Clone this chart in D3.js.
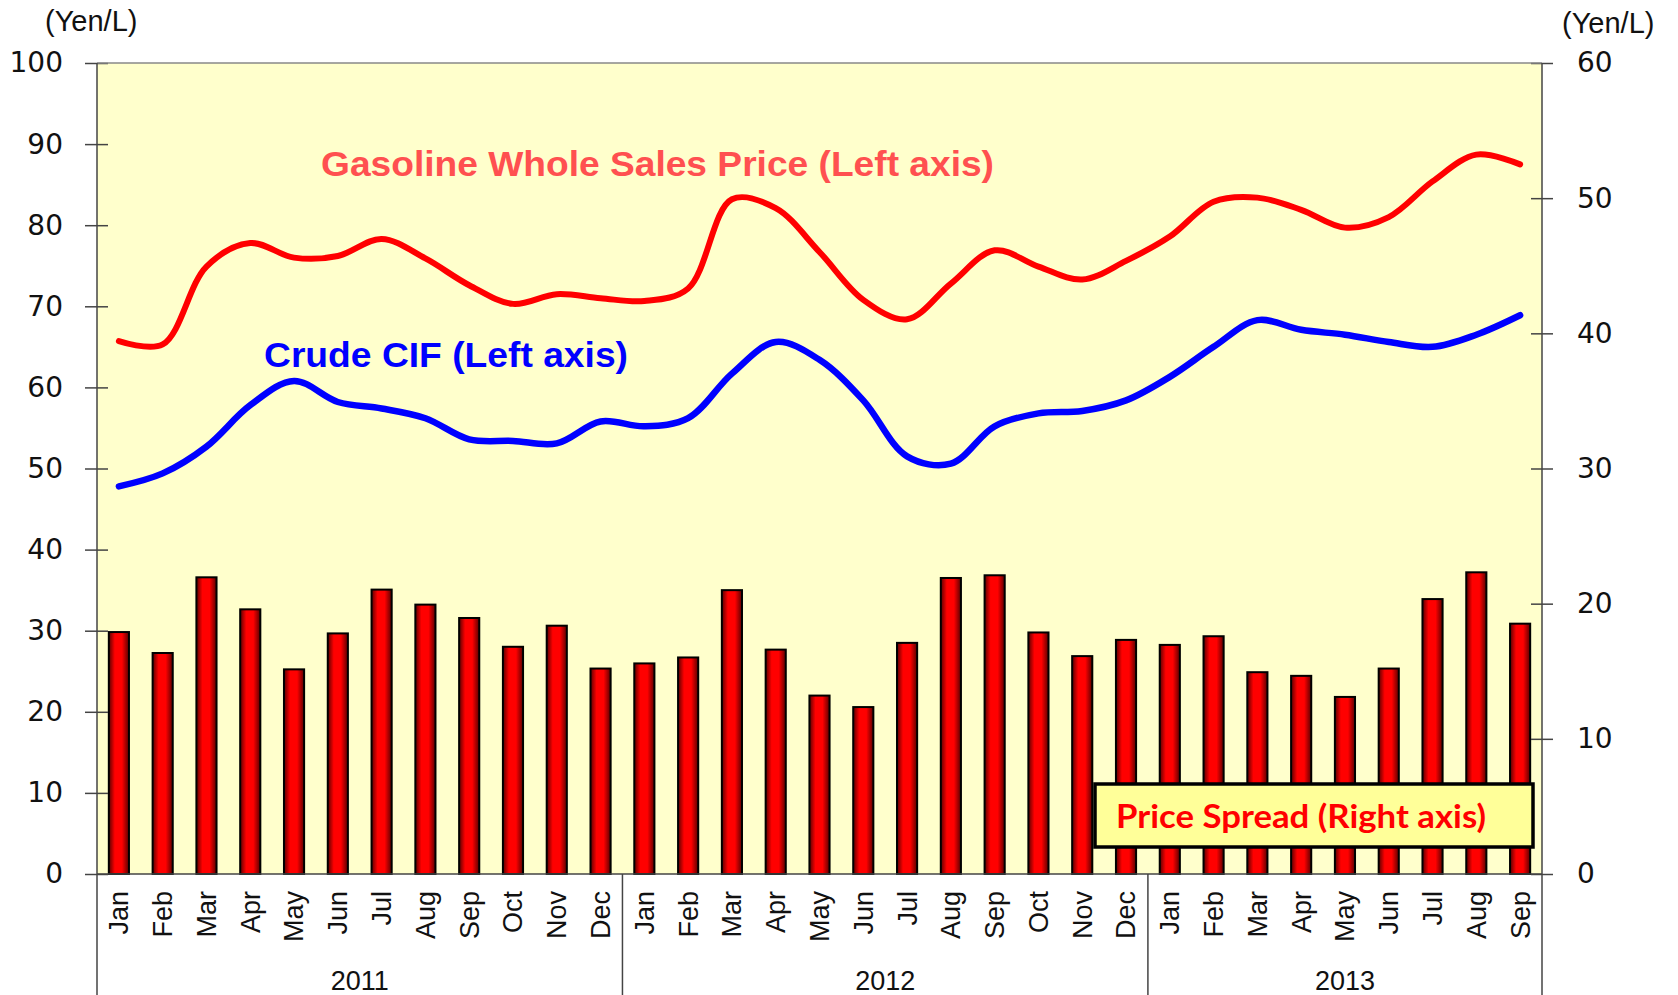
<!DOCTYPE html>
<html><head><meta charset="utf-8">
<script src="https://cdn.jsdelivr.net/npm/d3@7"></script>
<style>body{margin:0;background:#fff}svg{display:block}</style>
</head><body>
<svg id="c" width="1678" height="995"></svg>
<script>
const months = ["Jan","Feb","Mar","Apr","May","Jun","Jul","Aug","Sep","Oct","Nov","Dec",
  "Jan","Feb","Mar","Apr","May","Jun","Jul","Aug","Sep","Oct","Nov","Dec",
  "Jan","Feb","Mar","Apr","May","Jun","Jul","Aug","Sep"];
const years = ["2011","2012","2013"];
const yearMonthCounts = [12,12,9];
const gasoline = [65.7,65.3,74.9,77.8,76.0,76.2,78.3,75.9,72.6,70.3,71.5,71.0,
  70.65,72.2,83.2,82.1,76.7,70.8,68.4,72.8,76.9,74.9,73.3,75.6,
  78.6,82.9,83.4,81.9,79.7,81.0,85.4,88.7,87.5];
const crude = [47.8,49.4,52.7,57.8,60.8,58.2,57.4,56.2,53.6,53.4,53.1,55.8,
  55.2,56.2,61.7,65.6,63.4,58.4,51.5,50.6,55.2,56.8,57.1,58.4,
  61.3,65.0,68.3,67.1,66.5,65.6,65.0,66.5,68.9];
const spread = [17.9,16.35,21.95,19.58,15.14,17.8,21.04,19.93,18.94,16.81,18.37,15.2,
  15.58,16.02,21.0,16.6,13.2,12.35,17.1,21.9,22.1,17.87,16.12,17.32,
  16.95,17.59,14.93,14.66,13.1,15.2,20.34,22.32,18.52];
const leftTicks = [0,10,20,30,40,50,60,70,80,90,100];
const rightTicks = [0,10,20,30,40,50,60];

const svg = d3.select("#c");
const L = 97, R = 1542, T = 63, B = 874;
const axisColor = "#444";

const x = d3.scalePoint().domain(d3.range(months.length)).range([L, R]).padding(0.5);
const step = x.step();
const yL = d3.scaleLinear().domain([0,100]).range([B, T]);
const yR = d3.scaleLinear().domain([0,60]).range([B, T]);

const defs = svg.append("defs");
const g = defs.append("linearGradient").attr("id","barg").attr("x1","0").attr("x2","1").attr("y1","0").attr("y2","0");
g.append("stop").attr("offset","0%").attr("stop-color","#5a0000");
g.append("stop").attr("offset","30%").attr("stop-color","#ff0000");
g.append("stop").attr("offset","65%").attr("stop-color","#ff0000");
g.append("stop").attr("offset","100%").attr("stop-color","#5a0000");

// plot background
svg.append("rect").attr("x",L).attr("y",T).attr("width",R-L).attr("height",B-T).attr("fill","#FFFFCC");

// bars
const bw = step*0.46;
svg.append("g").selectAll("rect").data(spread).join("rect")
  .attr("x",(d,i)=>x(i)-bw/2).attr("y",d=>yR(d))
  .attr("width",bw).attr("height",d=>B-yR(d))
  .attr("fill","url(#barg)").attr("stroke","#000").attr("stroke-width",2);

// lines
const line = d3.line().x((d,i)=>x(i)).y(d=>yL(d)).curve(d3.curveCatmullRom.alpha(0.5));
svg.append("path").datum(gasoline).attr("d",line).attr("fill","none").attr("stroke","#FF0000")
  .attr("stroke-width",6).attr("stroke-linecap","round").attr("stroke-linejoin","round");
svg.append("path").datum(crude).attr("d",line).attr("fill","none").attr("stroke","#0000FF")
  .attr("stroke-width",6.5).attr("stroke-linecap","round").attr("stroke-linejoin","round");

// axes
const leftAxis = d3.axisLeft(yL).tickValues(leftTicks).tickSizeInner(12).tickSizeOuter(0).tickPadding(22);
const gl = svg.append("g").attr("transform",`translate(${L},0)`).call(leftAxis);
const rightAxis = d3.axisRight(yR).tickValues(rightTicks).tickSizeInner(11).tickSizeOuter(0).tickPadding(24);
const gr = svg.append("g").attr("transform",`translate(${R},0)`).call(rightAxis);
[gl,gr].forEach(a=>{
  a.select(".domain").remove();
  a.selectAll("text").attr("font-family","'DejaVu Sans', sans-serif").attr("font-size",28).attr("fill","#111");
  a.selectAll("line").attr("stroke",axisColor).attr("stroke-width",1.5);
});
gl.selectAll(".tick line").attr("x1",11);
gr.selectAll(".tick line").attr("x1",-11);

// frame lines
svg.append("line").attr("x1",L).attr("x2",R).attr("y1",T).attr("y2",T).attr("stroke","#888").attr("stroke-width",1.5);
svg.append("line").attr("x1",L).attr("x2",R).attr("y1",B).attr("y2",B).attr("stroke",axisColor).attr("stroke-width",1.5);
svg.append("line").attr("x1",L).attr("x2",L).attr("y1",T).attr("y2",995).attr("stroke",axisColor).attr("stroke-width",1.5);
svg.append("line").attr("x1",R).attr("x2",R).attr("y1",T).attr("y2",995).attr("stroke",axisColor).attr("stroke-width",1.5);

// month labels
svg.append("g").selectAll("text").data(months).join("text")
  .attr("transform",(d,i)=>`translate(${x(i)},891) rotate(-90)`)
  .attr("text-anchor","end").attr("dy","0.35em")
  .attr("font-family","'Liberation Sans', Arial, sans-serif").attr("font-size",27).attr("fill","#111")
  .text(d=>d);

// year labels & separators
let start = 0;
years.forEach((yr,k)=>{
  const n = yearMonthCounts[k];
  const x0 = L + start*step, x1 = L + (start+n)*step;
  svg.append("text").attr("x",(x0+x1)/2).attr("y",990).attr("text-anchor","middle")
    .attr("font-family","'Liberation Sans', Arial, sans-serif").attr("font-size",27).attr("fill","#111").text(yr);
  if (start>0) svg.append("line").attr("x1",x0).attr("x2",x0).attr("y1",B).attr("y2",995).attr("stroke",axisColor).attr("stroke-width",1.5);
  start += n;
});

// unit labels
svg.append("text").attr("x",45).attr("y",31).attr("font-family","'Liberation Sans', Arial, sans-serif").attr("font-size",29).attr("fill","#111").text("(Yen/L)");
svg.append("text").attr("x",1562).attr("y",33).attr("font-family","'Liberation Sans', Arial, sans-serif").attr("font-size",29).attr("fill","#111").text("(Yen/L)");

// annotations
svg.append("text").attr("x",321).attr("y",176).attr("font-family","'Liberation Sans', Arial, sans-serif")
  .attr("font-weight","bold").attr("font-size",35).attr("fill","#FF5050")
  .attr("textLength",673).attr("lengthAdjust","spacingAndGlyphs").text("Gasoline Whole Sales Price (Left axis)");
svg.append("text").attr("x",264).attr("y",367).attr("font-family","'Liberation Sans', Arial, sans-serif")
  .attr("font-weight","bold").attr("font-size",35).attr("fill","#0000FF")
  .attr("textLength",364).attr("lengthAdjust","spacingAndGlyphs").text("Crude CIF (Left axis)");

svg.append("rect").attr("x",1095).attr("y",784).attr("width",438).attr("height",63)
  .attr("fill","#FFFF99").attr("stroke","#000").attr("stroke-width",3.5);
svg.append("text").attr("x",1116).attr("y",828).attr("font-family","Lato, 'Open Sans', sans-serif")
  .attr("font-weight","bold").attr("font-size",32).attr("fill","#FF0000")
  .attr("textLength",370).attr("lengthAdjust","spacingAndGlyphs").text("Price Spread (Right axis)");
</script>
</body></html>
